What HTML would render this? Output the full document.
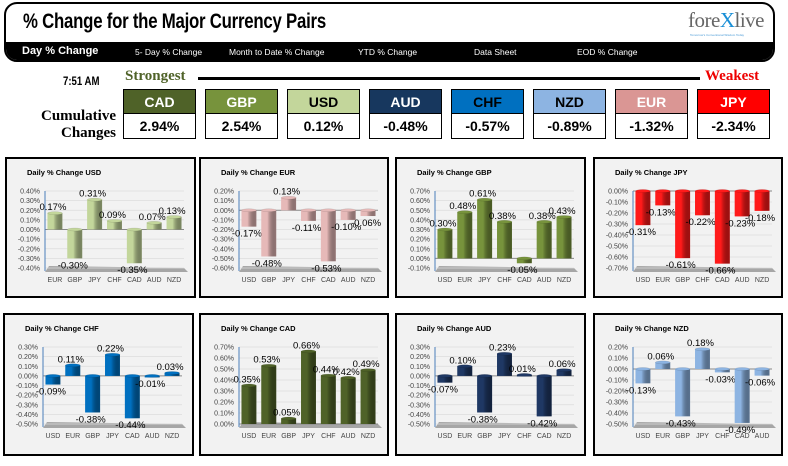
<!DOCTYPE html>
<html><head><meta charset="utf-8">
<style>
*{margin:0;padding:0;box-sizing:border-box}
body{width:788px;height:466px;background:#fff;position:relative;overflow:hidden;font-family:"Liberation Sans",sans-serif}
.hdr{position:absolute;left:4px;top:2px;width:771px;height:60px;border:2px solid #000;border-radius:13px;overflow:hidden;background:#fff}
.bar{position:absolute;left:0;top:38px;width:100%;height:22px;background:#000}
.tab{position:absolute;top:5px;color:#fff;font-size:8.5px;white-space:nowrap}
.title{position:absolute;left:17px;top:6px;font-size:21px;font-weight:bold;letter-spacing:-0.3px;transform:scaleX(0.8);transform-origin:left}
.box{position:absolute;top:89px;width:73px;height:50px;border:1.5px solid #000}
.box .h{height:24px;border-bottom:1.5px solid #000;text-align:center;font-weight:bold;font-size:14px;line-height:24px}
.box .v{text-align:center;font-weight:bold;font-size:14px;line-height:24px;background:#fff}
.panel{position:absolute;background:#f2f2f2;border:2px solid #000}
</style></head><body>
<div class="hdr">
 <div class="title">% Change for the Major Currency Pairs</div>
 <div style="position:absolute;left:682px;top:4px;font-family:'Liberation Serif',serif;font-size:21px;color:#666;letter-spacing:-0.5px">fore<span style="color:#1a8fd6">X</span>live</div>
 <div style="position:absolute;left:684px;top:29px;font-size:3px;color:#4a9ad6">Tomorrow's Conventional Wisdom Today</div>
 <div class="bar">
  <div class="tab" style="left:16px;top:3px;font-size:11px;font-weight:bold">Day % Change</div>
  <div class="tab" style="left:129px">5- Day % Change</div>
  <div class="tab" style="left:223px">Month to Date % Change</div>
  <div class="tab" style="left:352px">YTD % Change</div>
  <div class="tab" style="left:468px">Data Sheet</div>
  <div class="tab" style="left:571px">EOD % Change</div>
 </div>
</div>
<div style="position:absolute;left:63px;top:74px;font-size:12px;font-weight:bold;transform:scaleX(.8);transform-origin:left">7:51 AM</div>
<div style="position:absolute;left:125px;top:68px;font-family:'Liberation Serif',serif;font-size:15px;font-weight:bold;color:#4f6228">Strongest</div>
<div style="position:absolute;left:198px;top:77px;width:502px;height:3px;background:#000"></div>
<div style="position:absolute;left:705px;top:68px;font-family:'Liberation Serif',serif;font-size:15px;font-weight:bold;color:#e00">Weakest</div>
<div style="position:absolute;left:20px;top:108px;width:96px;text-align:right;font-family:'Liberation Serif',serif;font-size:15px;font-weight:bold;line-height:17px">Cumulative<br>Changes</div>
<div id="boxes"></div>
<div id="panels"></div>
<script>
const rankCurr=["CAD","GBP","USD","AUD","CHF","NZD","EUR","JPY"];
const rankVals=[2.94,2.54,0.12,-0.48,-0.57,-0.89,-1.32,-2.34];
const rankBg=["#4f6228","#77933c","#c3d69b","#17375e","#0070c0","#8db4e2","#da9694","#ff0000"];
const rankFg=["#fff","#fff","#000","#fff","#000","#000","#fff","#fff"];
const bx=document.getElementById('boxes');
rankCurr.forEach((c,i)=>{
 const d=document.createElement('div');d.className='box';d.style.left=(123+82*i)+'px';
 
 
 d.innerHTML='<div class="h" style="background:'+rankBg[i]+';color:'+rankFg[i]+'">'+c+'</div><div class="v">'+rankVals[i].toFixed(2)+'%</div>';
 bx.appendChild(d);
});

const usdCats=["EUR","GBP","JPY","CHF","CAD","AUD","NZD"];
const usdVals=[0.17,-0.30,0.31,0.09,-0.35,0.07,0.13];
const usdTicks=[0.4,0.3,0.2,0.1,0,-0.1,-0.2,-0.3,-0.4];
const eurCats=["USD","GBP","JPY","CHF","CAD","AUD","NZD"];
const eurVals=[-0.17,-0.48,0.13,-0.11,-0.53,-0.10,-0.06];
const eurTicks=[0.2,0.1,0,-0.1,-0.2,-0.3,-0.4,-0.5,-0.6];
const gbpCats=["USD","EUR","JPY","CHF","CAD","AUD","NZD"];
const gbpVals=[0.30,0.48,0.61,0.38,-0.05,0.38,0.43];
const gbpTicks=[0.7,0.6,0.5,0.4,0.3,0.2,0.1,0,-0.1];
const jpyCats=["USD","EUR","GBP","CHF","CAD","AUD","NZD"];
const jpyVals=[-0.31,-0.13,-0.61,-0.22,-0.66,-0.23,-0.18];
const jpyTicks=[0,-0.1,-0.2,-0.3,-0.4,-0.5,-0.6,-0.7];
const chfCats=["USD","EUR","GBP","JPY","CAD","AUD","NZD"];
const chfVals=[-0.09,0.11,-0.38,0.22,-0.44,-0.01,0.03];
const chfTicks=[0.3,0.2,0.1,0,-0.1,-0.2,-0.3,-0.4,-0.5];
const cadCats=["USD","EUR","GBP","JPY","CHF","AUD","NZD"];
const cadVals=[0.35,0.53,0.05,0.66,0.44,0.42,0.49];
const cadTicks=[0.7,0.6,0.5,0.4,0.3,0.2,0.1,0];
const audCats=["USD","EUR","GBP","JPY","CHF","CAD","NZD"];
const audVals=[-0.07,0.10,-0.38,0.23,0.01,-0.42,0.06];
const audTicks=[0.3,0.2,0.1,0,-0.1,-0.2,-0.3,-0.4,-0.5];
const nzdCats=["USD","EUR","GBP","JPY","CHF","CAD","AUD"];
const nzdVals=[-0.13,0.06,-0.43,0.18,-0.03,-0.49,-0.06];
const nzdTicks=[0.2,0.1,0,-0.1,-0.2,-0.3,-0.4,-0.5];

const charts=[
 {n:"USD",c:usdCats,v:usdVals,t:usdTicks,col:"#c3d69b",x:5,y:157,w:191,h:141},
 {n:"EUR",c:eurCats,v:eurVals,t:eurTicks,col:"#e6b9b8",x:199,y:157,w:190,h:141},
 {n:"GBP",c:gbpCats,v:gbpVals,t:gbpTicks,col:"#77933c",x:395,y:157,w:191,h:141},
 {n:"JPY",c:jpyCats,v:jpyVals,t:jpyTicks,col:"#ff1a1a",x:593,y:157,w:190,h:141},
 {n:"CHF",c:chfCats,v:chfVals,t:chfTicks,col:"#0070c0",x:3,y:313,w:191,h:143},
 {n:"CAD",c:cadCats,v:cadVals,t:cadTicks,col:"#4f6228",x:199,y:313,w:190,h:143},
 {n:"AUD",c:audCats,v:audVals,t:audTicks,col:"#1f3864",x:395,y:313,w:191,h:143},
 {n:"NZD",c:nzdCats,v:nzdVals,t:nzdTicks,col:"#8db4e2",x:593,y:313,w:190,h:143}
];
const NS="http://www.w3.org/2000/svg";
function el(tag,attrs,parent){const e=document.createElementNS(NS,tag);for(const k in attrs)e.setAttribute(k,attrs[k]);parent.appendChild(e);return e;}
const host=document.getElementById('panels');
charts.forEach((ch,ci)=>{
 const p=document.createElement('div');p.className='panel';
 p.style.left=ch.x+'px';p.style.top=ch.y+'px';p.style.width=ch.w+'px';p.style.height=ch.h+'px';
 
 
 host.appendChild(p);
 const s=el('svg',{width:ch.w-4,height:ch.h-4},p);
 s.style.position='absolute';
 const tt=el('text',{x:20,y:16,'font-size':7.5,'font-weight':'bold','font-family':'Liberation Sans, sans-serif'},s);
 tt.textContent='Daily % Change '+ch.n;
 
 
 const top=32,bot=109,left=38,right=177;
 const ymax=ch.t[0],ymin=ch.t[ch.t.length-1];
 const Y=v=>top+(ymax-v)/(ymax-ymin)*(bot-top);
 const bw=(right-left)/ch.c.length;
 const X=i=>left+bw*(i+0.5);
 const fl=el('polygon',{points:(left)+','+(bot+4)+' '+(right+4)+','+(bot+4)+' '+(right)+','+bot+' '+(left+4)+','+(bot-2),fill:'#a6a6a6'},s);
 
 
 ch.t.forEach(t=>{
  const gy=Y(t);
  el('line',{x1:left,x2:right,y1:gy,y2:gy,stroke:t===0?'#888':'#dcdcdc','stroke-width':t===0?1:0.7},s);
  const lb=el('text',{x:left-5,y:gy+2.5,'font-size':7,'text-anchor':'end',fill:'#444','font-family':'Liberation Sans, sans-serif'},s);
  lb.textContent=t.toFixed(2)+'%';
  
  
 });
 el('line',{x1:left,x2:left,y1:top,y2:bot+3,stroke:'#4a7ebb','stroke-width':1},s);
 const gid='g'+ci;
 const defs=el('defs',{},s);
 const lg=el('linearGradient',{id:gid,x1:0,x2:1,y1:0,y2:0},defs);
 el('stop',{offset:'0','stop-color':ch.col,'stop-opacity':0.75},lg);
 el('stop',{offset:'0.4','stop-color':ch.col},lg);
 el('stop',{offset:'1','stop-color':'#000','stop-opacity':0.35},lg);
 ch.v.forEach((v,i)=>{
  const cx=X(i),y0=Y(0),y1=Y(v);
  const bwid=bw*0.75;
  const g=el('g',{},s);
  const r=el('rect',{x:cx-bwid/2,y:Math.min(y0,y1),width:bwid,height:Math.max(1.5,Math.abs(y1-y0)),fill:ch.col},g);
  
  
  el('rect',{x:cx-bwid/2,y:Math.min(y0,y1),width:bwid,height:Math.max(1.5,Math.abs(y1-y0)),fill:'url(#'+gid+')'},g);
  el('ellipse',{cx:cx,cy:Math.min(y0,y1),rx:bwid/2,ry:1.5,fill:ch.col,stroke:'#0003','stroke-width':0.4},g);
  const vl=el('text',{x:cx-2,y:v>=0?y1-3:y1+10,'font-size':9.5,'text-anchor':'middle',fill:'#000','font-family':'Liberation Sans, sans-serif'},s);
  vl.textContent=v.toFixed(2)+'%';
  
  
  const cl=el('text',{x:cx,y:bot+14,'font-size':7,'text-anchor':'middle',fill:'#444','font-family':'Liberation Sans, sans-serif'},s);
  cl.textContent=ch.c[i];
  
  
 });
});
</script>
</body></html>
